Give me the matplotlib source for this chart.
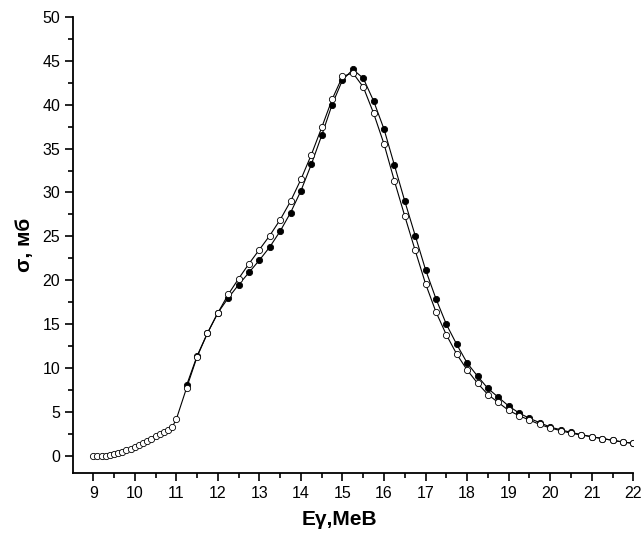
import numpy as np
import matplotlib
matplotlib.use('Agg')
import matplotlib.pyplot as plt
from matplotlib.ticker import MultipleLocator

plt.rcParams['font.family'] = ['Liberation Sans', 'DejaVu Sans']

# low energy part (open circles only), step 0.1 MeV
e_low = [9.0, 9.1, 9.2, 9.3, 9.4, 9.5, 9.6, 9.7, 9.8, 9.9, 10.0,
         10.1, 10.2, 10.3, 10.4, 10.5, 10.6, 10.7, 10.8, 10.9, 11.0]
s_low = [0.0, 0.0, 0.02, 0.05, 0.1, 0.2, 0.3, 0.45, 0.65, 0.85, 1.05,
         1.25, 1.5, 1.75, 2.0, 2.25, 2.5, 2.75, 3.0, 3.3, 4.2]

# main part, step 0.25 MeV
e_main = [11.25, 11.5, 11.75, 12.0, 12.25, 12.5, 12.75, 13.0, 13.25, 13.5,
          13.75, 14.0, 14.25, 14.5, 14.75, 15.0, 15.25, 15.5, 15.75, 16.0,
          16.25, 16.5, 16.75, 17.0, 17.25, 17.5, 17.75, 18.0, 18.25, 18.5,
          18.75, 19.0, 19.25, 19.5, 19.75, 20.0, 20.25, 20.5, 20.75, 21.0,
          21.25, 21.5, 21.75, 22.0]
s_open = [7.8, 11.3, 14.0, 16.3, 18.4, 20.2, 21.9, 23.5, 25.1, 26.9,
          29.0, 31.5, 34.3, 37.4, 40.6, 43.2, 43.6, 42.0, 39.0, 35.5,
          31.3, 27.3, 23.4, 19.6, 16.4, 13.8, 11.6, 9.8, 8.3, 7.0,
          6.1, 5.2, 4.6, 4.1, 3.6, 3.2, 2.9, 2.6, 2.4, 2.2,
          2.0, 1.8, 1.6, 1.45]
s_filled = [8.1, 11.4, 14.0, 16.3, 18.0, 19.5, 20.9, 22.3, 23.8, 25.6,
            27.7, 30.2, 33.2, 36.5, 40.0, 42.8, 44.0, 43.0, 40.4, 37.2,
            33.1, 29.0, 25.1, 21.2, 17.9, 15.0, 12.7, 10.6, 9.1, 7.7,
            6.7, 5.7, 4.9, 4.3, 3.8, 3.3, 3.0, 2.7, 2.45, 2.2,
            2.0, 1.8, 1.6, 1.45]

fig = plt.figure(figsize=(6.44, 5.43), dpi=100)
ax = fig.add_axes([0.1138, 0.1293, 0.8696, 0.8399])

# filled circles
ax.plot(e_main, s_filled, color='black', lw=0.8, marker='o', ms=4.5,
        mfc='black', mec='black', mew=0.6, zorder=2)
# open circles
e_open = e_low + e_main
s_open_all = s_low + s_open
ax.plot(e_open, s_open_all, color='black', lw=0.8, marker='o', ms=4.5,
        mfc='white', mec='black', mew=0.6, zorder=3)

ax.set_xlim(8.52, 22)
ax.set_ylim(-1.9, 50)
ax.xaxis.set_major_locator(MultipleLocator(1))
ax.xaxis.set_minor_locator(MultipleLocator(0.5))
ax.yaxis.set_major_locator(MultipleLocator(5))
ax.yaxis.set_minor_locator(MultipleLocator(2.5))

for s in ['top', 'right']:
    ax.spines[s].set_visible(False)
for s in ['left', 'bottom']:
    ax.spines[s].set_linewidth(1.3)

ax.tick_params(which='major', direction='out', length=6, width=1.2, labelsize=11.5)
ax.tick_params(which='minor', direction='out', length=3.5, width=1.2)

ax.set_xlabel('Eγ,МеВ', fontsize=15, fontweight='bold')
ax.xaxis.set_label_coords(0.476, -0.082)
ax.set_ylabel('σ, мб', fontsize=15, fontweight='bold', labelpad=6)

fig.savefig('out.png', dpi=100)
